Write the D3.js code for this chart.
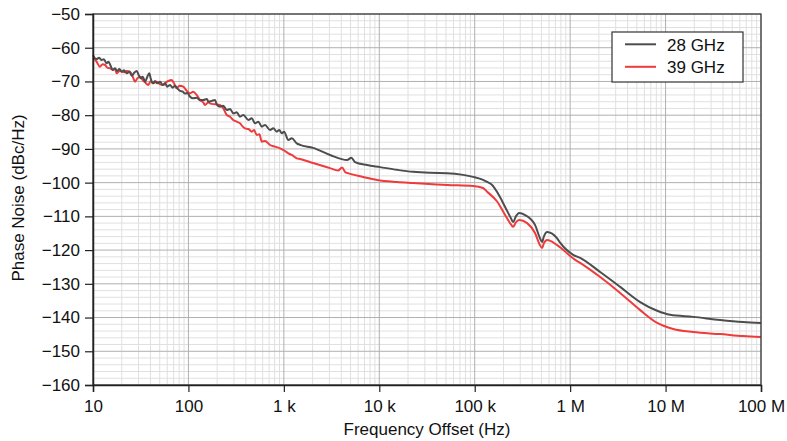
<!DOCTYPE html>
<html><head><meta charset="utf-8">
<script src="https://cdn.jsdelivr.net/npm/d3@7"></script>
<style>body{margin:0;background:#fff}svg{display:block;font-family:"Liberation Sans",Arial,sans-serif}</style>
</head><body><svg id="c" width="787" height="441"></svg>
<script>
const seriesNames = ["28 GHz", "39 GHz"];
const freq28 = [10,10.2,10.9,11.6,12.3,13.0,13.9,14.5,15.3,16.1,17.0,18.0,18.9,20.0,21.1,22.6,24.0,25.5,26.9,28.7,30.1,31.6,33.2,35.1,37.1,38.9,40.2,42.3,44.7,47.2,50.4,53.8,56.9,60.1,64.1,68.5,72.4,76.5,81.7,87.2,92.1,97.4,
104,112,122,132,143,156,162,175,190,198,214,232,252,273,295,321,347,376,425,461,499,540,587,635,717,776,843,897,951,1005,1115,1211,1366,
1478,2024,3050,4597,5100,5575,7448,10200,15370,22610,34080,51370,75600,96200,122500,134900,152200,171700,208300,240000,252600,270000,292000,337600,429700,480000,508700,530000,574200,730700,785600,1075000,1273000,2063000,3343000,5418000,8166000,11170000,19470000,37350000,65070000,100000000];
const pn28 = [-62.2,-62.65,-63.34,-62.95,-63.64,-63.44,-64.63,-64.13,-65.32,-66.6,-66.11,-66.9,-66.31,-67.1,-66.7,-67.59,-67.1,-68.28,-67.49,-66.9,-68.08,-69.07,-68.58,-70.06,-68.58,-67.59,-69.07,-70.55,-69.86,-70.55,-70.06,-71.05,-70.55,-71.54,-71.05,-71.84,-71.24,-72.04,-72.8,-73.0,-73.6,-73.4,
-74.51,-75.0,-74.8,-75.5,-75.5,-75.2,-75.99,-75.79,-75.5,-76.78,-77.47,-77.18,-78.46,-78.16,-79.45,-79.15,-80.44,-79.94,-81.43,-80.93,-82.41,-81.92,-83.4,-82.91,-84.39,-83.9,-84.88,-84.39,-85.38,-84.88,-87.35,-86.86,-88.34,
-88.8,-89.7,-91.8,-93.3,-92.6,-93.9,-94.8,-95.4,-96.2,-96.8,-97.1,-97.2,-97.7,-98.3,-99.2,-99.8,-100.7,-102.8,-107.2,-110.6,-111.7,-110.0,-109.0,-109.6,-112.6,-116.3,-117.6,-116.0,-114.6,-116.5,-117.8,-121.4,-122.3,-126.5,-130.9,-135.4,-138.0,-139.2,-139.8,-140.7,-141.3,-141.6];
const freq39 = [10,10.2,10.9,11.8,12.6,13.4,14.1,15.1,16.1,17.0,17.7,18.9,20.0,21.1,22.6,24.4,26.1,27.6,29.1,31.1,33.2,35.1,38.0,40.2,42.9,46.5,50.4,54.6,58.2,61.5,66.8,70.7,75.4,80.3,88.4,94.4,104,112,122,
132,143,149,162,168,190,214,232,252,273,295,321,347,371,392,425,461,487,520,554,587,635,717,809,913,1029,1115,1211,1366,
1478,2024,3050,3700,4075,4400,4597,6765,9482,15370,22610,51370,96200,122500,134900,171700,208300,240000,252600,270000,292000,354300,429700,480000,508700,530000,574200,730700,1128000,1273000,2063000,3343000,5418000,8166000,12010000,19470000,37350000,65070000,100000000];
const pn39 = [-63.0,-63.14,-64.13,-65.61,-64.92,-65.12,-65.91,-66.11,-66.6,-66.31,-67.59,-66.9,-67.1,-67.29,-66.9,-67.1,-68.58,-70.06,-69.07,-68.58,-69.57,-70.26,-71.05,-69.86,-70.55,-70.06,-70.85,-71.05,-70.26,-69.86,-69.57,-70.55,-72.04,-71.24,-71.54,-72.53,-73.52,-73.03,-74.01,
-75.5,-76.19,-76.98,-76.19,-76.48,-76.78,-76.98,-77.97,-79.94,-80.44,-81.43,-81.92,-82.41,-83.4,-83.9,-84.09,-84.88,-84.39,-85.87,-85.67,-87.85,-87.65,-88.84,-89.33,-89.82,-90.62,-91.31,-91.8,-92.79,
-93.0,-94.2,-95.7,-96.4,-95.5,-96.9,-97.1,-98.3,-99.2,-99.8,-100.1,-100.7,-101.0,-101.6,-102.7,-105.6,-109.6,-112.4,-113.1,-111.8,-111.1,-112.0,-115.0,-118.4,-119.4,-118.0,-117.0,-118.5,-122.9,-123.8,-128.0,-132.7,-137.8,-141.6,-143.4,-144.3,-144.9,-145.5,-145.8];
const xTicks = [10,100,1e3,1e4,1e5,1e6,1e7,1e8];
const xTickLabels = ["10","100","1 k","10 k","100 k","1 M","10 M","100 M"];
const yTicks = [-50,-60,-70,-80,-90,-100,-110,-120,-130,-140,-150,-160];
const colors = ["#4d4d4d", "#ef3b3b"];

const svg = d3.select("#c");
const L = 93, R = 761, T = 14, B = 385;
const FS = "17px";
const x = d3.scaleLog().domain([10, 1e8]).range([L, R]);
const y = d3.scaleLinear().domain([-160, -50]).range([B, T]);

const g = svg.append("g");
const minorX = [];
for (let d = 10; d < 1e8; d *= 10) for (let k = 2; k <= 9; k++) minorX.push(d * k);
g.selectAll(".mx").data(minorX).enter().append("line")
  .attr("x1", d => x(d)).attr("x2", d => x(d)).attr("y1", T).attr("y2", B)
  .attr("stroke", "#e0e0e0").attr("stroke-width", 1);
const minorY = d3.range(-158, -50, 2).filter(v => v % 10 !== 0);
g.selectAll(".my").data(minorY).enter().append("line")
  .attr("x1", L).attr("x2", R).attr("y1", d => y(d)).attr("y2", d => y(d))
  .attr("stroke", "#e0e0e0").attr("stroke-width", 1);
g.selectAll(".Mx").data(xTicks).enter().append("line")
  .attr("x1", d => x(d)).attr("x2", d => x(d)).attr("y1", T).attr("y2", B)
  .attr("stroke", "#b0b0b0").attr("stroke-width", 1);
g.selectAll(".My").data(yTicks).enter().append("line")
  .attr("x1", L).attr("x2", R).attr("y1", d => y(d)).attr("y2", d => y(d))
  .attr("stroke", "#b0b0b0").attr("stroke-width", 1);

const line = d3.line().x(d => x(d[0])).y(d => y(d[1])).curve(d3.curveMonotoneX);
const data = [d3.zip(freq28, pn28), d3.zip(freq39, pn39)];
[1, 0].forEach(i => {
  svg.append("path").datum(data[i]).attr("d", line)
    .attr("fill", "none").attr("stroke", colors[i]).attr("stroke-width", 2)
    .attr("stroke-linejoin", "round");
});

svg.append("rect").attr("x", L).attr("y", T).attr("width", R - L).attr("height", B - T)
  .attr("fill", "none").attr("stroke", "#333").attr("stroke-width", 1.2);

const xAxis = d3.axisBottom(x).tickValues(xTicks).tickFormat((d, i) => xTickLabels[i]).tickSizeOuter(0).tickSize(7).tickPadding(8);
const gx = svg.append("g").attr("transform", `translate(0,${B})`).call(xAxis);
const yAxis = d3.axisLeft(y).tickValues(yTicks).tickFormat(d => String(d).replace("-", "\u2212")).tickSizeOuter(0).tickSize(8).tickPadding(5);
const gy = svg.append("g").attr("transform", `translate(${L},0)`).call(yAxis);
[gx, gy].forEach(a => {
  a.select(".domain").attr("stroke", "#222").attr("stroke-width", 1.5);
  a.selectAll(".tick line").attr("stroke", "#222").attr("stroke-width", 1.2);
  a.selectAll("text").attr("fill", "#111").style("font-size", FS).style("font-family", '"Liberation Sans",Arial,sans-serif');
});

svg.append("text").attr("x", (L + R) / 2).attr("y", 435).attr("text-anchor", "middle")
  .style("font-size", FS).attr("fill", "#111").text("Frequency Offset (Hz)");
svg.append("text").attr("transform", `translate(24,198) rotate(-90)`).attr("text-anchor", "middle")
  .style("font-size", FS).attr("fill", "#111").text("Phase Noise (dBc/Hz)");

const lg = svg.append("g");
lg.append("rect").attr("x", 612).attr("y", 32).attr("width", 131).attr("height", 50)
  .attr("fill", "#fff").attr("stroke", "#333").attr("stroke-width", 1.2);
seriesNames.forEach((n, i) => {
  const yy = 44.3 + i * 22.5;
  lg.append("line").attr("x1", 625).attr("x2", 656).attr("y1", yy).attr("y2", yy)
    .attr("stroke", colors[i]).attr("stroke-width", 2);
  lg.append("text").attr("x", 667).attr("y", yy + 6.5).style("font-size", FS).attr("fill", "#111").text(n);
});
</script></body></html>
